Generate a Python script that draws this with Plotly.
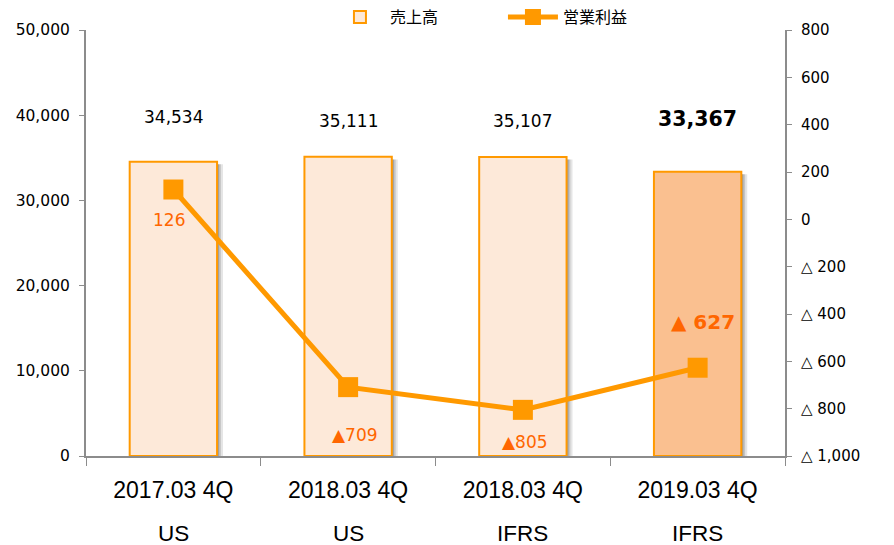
import plotly.graph_objects as go

categories = ["2017.03 4Q", "2018.03 4Q", "2018.03 4Q ", "2019.03 4Q"]
tick_line1 = ["2017.03 4Q", "2018.03 4Q", "2018.03 4Q", "2019.03 4Q"]
tick_line2 = ["US", "US", "IFRS", "IFRS"]
sales = [34534, 35111, 35107, 33367]
sales_labels = ["34,534", "35,111", "35,107", "33,367"]
profit = [126, -709, -805, -627]
profit_labels = ["126", "▲709", "▲805", "▲ 627"]
bar_colors = ["#FDE9D9", "#FDE9D9", "#FDE9D9", "#FAC090"]
right_tickvals = [800, 600, 400, 200, 0, -200, -400, -600, -800, -1000]
right_ticktext = ["800", "600", "400", "200", "0", "△ 200", "△ 400", "△ 600", "△ 800", "△ 1,000"]
left_tickvals = [0, 10000, 20000, 30000, 40000, 50000]
left_ticktext = ["0", "10,000", "20,000", "30,000", "40,000", "50,000"]

ORANGE = "#FF9900"
LABEL_ORANGE = "#FF6600"
AXIS = "#8C8C8C"

fig = go.Figure()

# soft drop shadow behind bars
for shift, alpha in [(0.034, 0.10), (0.022, 0.14), (0.012, 0.18)]:
    fig.add_trace(go.Bar(
        x=categories, y=[v - 300 for v in sales], width=0.5, offset=-0.25 + shift,
        marker=dict(color=f"rgba(0,0,0,{alpha})", line=dict(width=0)),
        showlegend=False, hoverinfo="skip",
    ))

fig.add_trace(go.Bar(
    x=categories, y=sales, width=0.5, offset=-0.25, name="売上高",
    marker=dict(color=bar_colors, line=dict(color=ORANGE, width=2)),
))

fig.add_trace(go.Scatter(
    x=categories, y=profit, yaxis="y2", name="営業利益", mode="lines+markers",
    line=dict(color=ORANGE, width=5),
    marker=dict(symbol="square", size=20, color=ORANGE),
))

annotations = []
bar_shift = [45, 36, 36, 53]
for i, (c, v, t) in enumerate(zip(categories, sales, sales_labels)):
    bold = i == 3
    annotations.append(dict(
        x=c, y=v, xref="x", yref="y", text=f"<b>{t}</b>" if bold else t,
        showarrow=False, yshift=bar_shift[i],
        font=dict(family="DejaVu Sans", size=20.5 if bold else 17, color="#000000"),
    ))

prof_shift = [(-4, -30), (7, -48), (2, -32), (5, 46)]
for i, (c, v, t) in enumerate(zip(categories, profit, profit_labels)):
    bold = i == 3
    xs, ys = prof_shift[i]
    annotations.append(dict(
        x=c, y=v, xref="x", yref="y2", text=f"<b>{t}</b>" if bold else t,
        showarrow=False, xshift=xs, yshift=ys,
        font=dict(family="DejaVu Sans", size=20 if bold else 17, color=LABEL_ORANGE),
    ))

for c, t in zip(categories, tick_line2):
    annotations.append(dict(
        x=c, y=-0.183, xref="x", yref="paper", text=t, showarrow=False,
        yanchor="middle", font=dict(family="Liberation Sans", size=22.5, color="#000000"),
    ))

fig.update_layout(
    width=894, height=545,
    margin=dict(l=86, r=109, t=30, b=89, autoexpand=False),
    paper_bgcolor="white", plot_bgcolor="white",
    barmode="overlay",
    showlegend=True,
    legend=dict(
        orientation="h", x=0.349, xanchor="left", y=1.03, yanchor="middle",
        font=dict(family="Noto Sans CJK JP", size=16, color="#000000"),
        itemwidth=50, entrywidth=108, traceorder="normal", bgcolor="rgba(0,0,0,0)",
    ),
    xaxis=dict(
        type="category", tickmode="array", tickvals=categories, ticktext=tick_line1,
        tickson="boundaries", ticks="outside", ticklen=8, tickcolor=AXIS,
        showline=True, linecolor=AXIS, linewidth=2, showgrid=False,
        tickfont=dict(family="Liberation Sans", size=23, color="#000000"),
        ticklabelstandoff=12, range=[-0.5, 3.5], automargin=False,
    ),
    yaxis=dict(
        range=[0, 50000], tickmode="array", tickvals=left_tickvals, ticktext=left_ticktext,
        ticks="outside", ticklen=5, tickcolor=AXIS, showline=True, linecolor=AXIS,
        linewidth=2, showgrid=False, zeroline=False, automargin=False,
        tickfont=dict(family="DejaVu Sans", size=15.5, color="#000000"),
        ticklabelstandoff=6,
    ),
    yaxis2=dict(
        overlaying="y", side="right", range=[-1000, 800], tickmode="array",
        tickvals=right_tickvals, ticktext=right_ticktext, automargin=False,
        ticks="outside", ticklen=5, tickcolor=AXIS, showline=True, linecolor=AXIS,
        linewidth=2, showgrid=False, zeroline=False,
        tickfont=dict(family="DejaVu Sans", size=15, color="#000000"),
        ticklabelstandoff=6,
    ),
    annotations=annotations,
)

fig.write_html("out.html", config={"displayModeBar": False},
               post_script="document.body.style.margin='0px';")
